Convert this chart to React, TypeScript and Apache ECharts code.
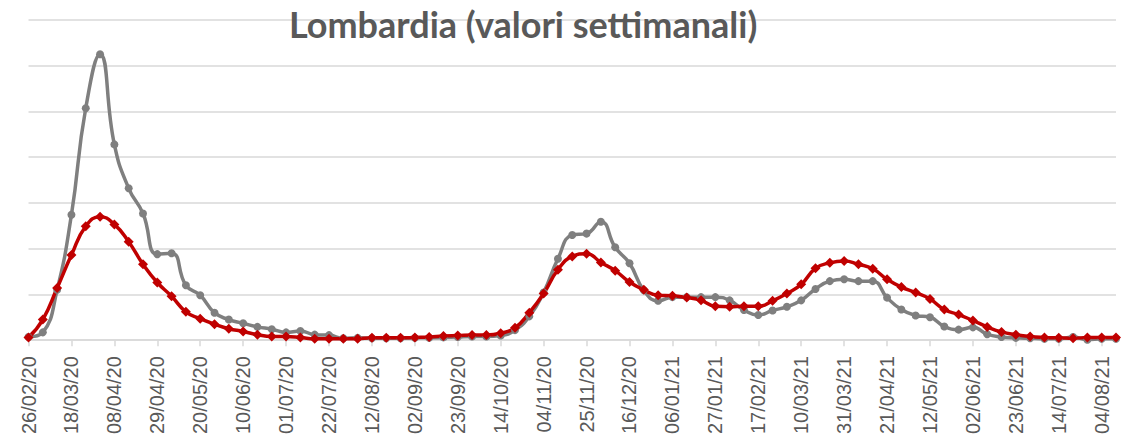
import React, { useEffect, useRef } from "react";
import * as echarts from "echarts";

const categories: string[] = [
  "26/02/20", "04/03/20", "11/03/20", "18/03/20", "25/03/20", "01/04/20", "08/04/20", "15/04/20",
  "22/04/20", "29/04/20", "06/05/20", "13/05/20", "20/05/20", "27/05/20", "03/06/20", "10/06/20",
  "17/06/20", "24/06/20", "01/07/20", "08/07/20", "15/07/20", "22/07/20", "29/07/20", "05/08/20",
  "12/08/20", "19/08/20", "26/08/20", "02/09/20", "09/09/20", "16/09/20", "23/09/20", "30/09/20",
  "07/10/20", "14/10/20", "21/10/20", "28/10/20", "04/11/20", "11/11/20", "18/11/20", "25/11/20",
  "02/12/20", "09/12/20", "16/12/20", "23/12/20", "30/12/20", "06/01/21", "13/01/21", "20/01/21",
  "27/01/21", "03/02/21", "10/02/21", "17/02/21", "24/02/21", "03/03/21", "10/03/21", "17/03/21",
  "24/03/21", "31/03/21", "07/04/21", "14/04/21", "21/04/21", "28/04/21", "05/05/21", "12/05/21",
  "19/05/21", "26/05/21", "02/06/21", "09/06/21", "16/06/21", "23/06/21", "30/06/21", "07/07/21",
  "14/07/21", "21/07/21", "28/07/21", "04/08/21", "11/08/21",
];

const grayValues: number[] = [
  0.07, 0.17, 1.1, 2.74, 5.07, 6.25, 4.28, 3.32, 2.77, 1.88, 1.9, 1.2, 0.98, 0.6, 0.45, 0.37,
  0.29, 0.24, 0.17, 0.2, 0.12, 0.11, 0.04, 0.05, 0.04, 0.04, 0.04, 0.05, 0.05, 0.06, 0.07, 0.08,
  0.08, 0.1, 0.22, 0.52, 1.04, 1.78, 2.3, 2.33, 2.59, 2.03, 1.68, 1.09, 0.86, 0.94, 0.94, 0.94,
  0.94, 0.87, 0.66, 0.55, 0.65, 0.73, 0.87, 1.12, 1.29, 1.33, 1.29, 1.29, 0.93, 0.67, 0.54, 0.5,
  0.3, 0.23, 0.28, 0.13, 0.07, 0.05, 0.04, 0.03, 0.03, 0.07, 0.01, 0.03, 0.03,
];

const redValues: number[] = [
  0.06, 0.45, 1.14, 1.86, 2.49, 2.7, 2.53, 2.15, 1.66, 1.26, 0.96, 0.62, 0.47, 0.35, 0.25, 0.19,
  0.12, 0.08, 0.08, 0.06, 0.03, 0.03, 0.03, 0.03, 0.05, 0.05, 0.05, 0.06, 0.07, 0.09, 0.1, 0.11,
  0.11, 0.15, 0.27, 0.6, 1.02, 1.54, 1.83, 1.89, 1.7, 1.52, 1.27, 1.1, 0.98, 0.97, 0.93, 0.87,
  0.74, 0.73, 0.74, 0.74, 0.86, 1.02, 1.22, 1.57, 1.69, 1.73, 1.66, 1.56, 1.33, 1.16, 1.04, 0.9,
  0.67, 0.56, 0.43, 0.29, 0.18, 0.12, 0.08, 0.06, 0.05, 0.04, 0.06, 0.06, 0.06,
];

const titleText = "Lombardia (valori settimanali)";

export default function App() {
  const ref = useRef<HTMLDivElement>(null);
  useEffect(() => {
    if (!ref.current) return;
    const chart = echarts.init(ref.current, null, { renderer: "svg" });
    chart.setOption({
      animation: false,
      backgroundColor: "#ffffff",
      title: {
        text: titleText,
        left: 284,
        top: 1,
        textStyle: {
          fontFamily: "Lato",
          fontWeight: "bold",
          fontSize: 36,
          color: "#595959",
        },
      },
      grid: { left: 28.5, right: 6, top: 20, bottom: 95.5, containLabel: false },
      xAxis: {
        type: "category",
        data: categories,
        boundaryGap: false,
        axisLine: { show: true, lineStyle: { color: "#d9d9d9", width: 1.5 } },
        axisTick: { show: true, interval: 2, length: 6, lineStyle: { color: "#d9d9d9", width: 1.5 } },
        axisLabel: {
          interval: 2,
          rotate: 90,
          margin: 16,
          fontFamily: "Liberation Sans",
          fontSize: 20,
          color: "#595959",
        },
        splitLine: { show: false },
      },
      yAxis: {
        type: "value",
        min: 0,
        max: 7,
        interval: 1,
        axisLine: { show: false },
        axisTick: { show: false },
        axisLabel: { show: false },
        splitLine: { show: true, lineStyle: { color: "#d9d9d9", width: 1.5 } },
      },
      series: [
        {
          name: "grigio",
          type: "line",
          data: grayValues,
          smooth: 0.5,
          symbol: "circle",
          symbolSize: 8,
          showAllSymbol: true,
          lineStyle: { color: "#7f7f7f", width: 3.5 },
          itemStyle: { color: "#7f7f7f" },
        },
        {
          name: "rosso",
          type: "line",
          data: redValues,
          smooth: 0.5,
          symbol: "diamond",
          symbolSize: 10,
          showAllSymbol: true,
          lineStyle: { color: "#c00000", width: 3.5 },
          itemStyle: { color: "#c00000" },
        },
      ],
    });
    return () => chart.dispose();
  }, []);
  return (
    <div
      ref={ref}
      style={{ position: "absolute", left: 0, top: 0, width: 1122, height: 437 }}
    />
  );
}
